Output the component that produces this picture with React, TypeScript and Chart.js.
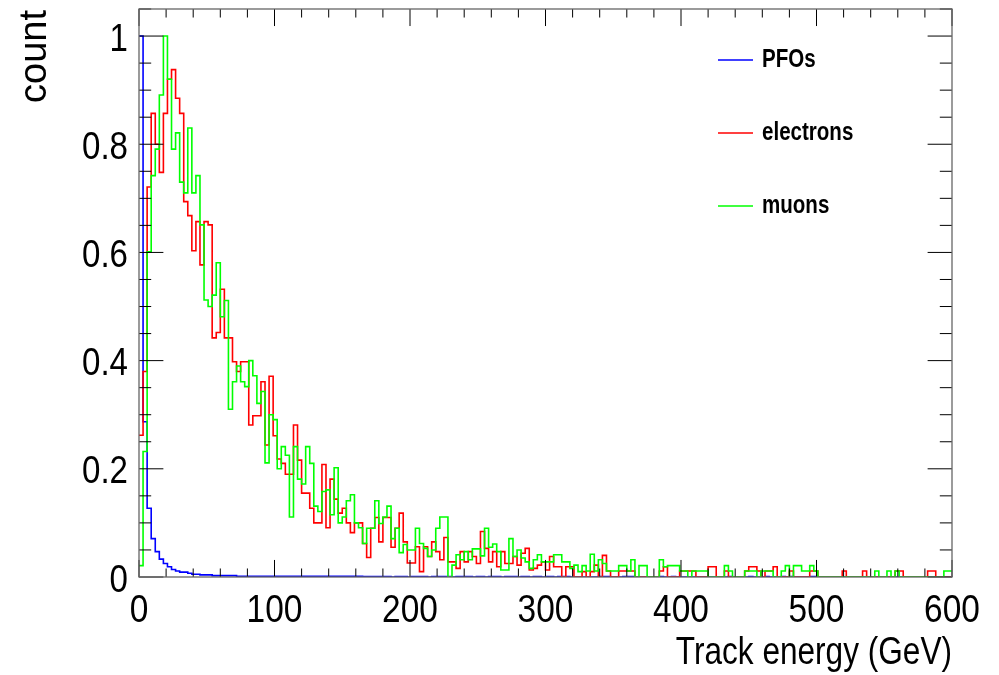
import React, { useEffect, useRef } from 'react';
import { Chart, registerables } from 'chart.js';

Chart.register(...registerables);

// ---------- data ----------
const BIN_WIDTH = 3; // GeV per bin
const X_MIN = 0;
const X_MAX = 600;
const Y_MIN = 0;
const Y_MAX = 1.05;
const X_TICKS = [0, 100, 200, 300, 400, 500, 600];
const X_TICK_LABELS = ['0', '100', '200', '300', '400', '500', '600'];
const Y_TICKS = [0, 0.2, 0.4, 0.6, 0.8, 1];
const Y_TICK_LABELS = ['0', '0.2', '0.4', '0.6', '0.8', '1'];
const X_MINOR_STEP = 20;
const Y_MINOR_STEP = 0.05;
const X_TITLE = 'Track energy (GeV)';
const Y_TITLE = 'count';
const SERIES_LABELS = ['PFOs', 'electrons', 'muons'];
const SERIES_COLORS = ['#0000ff', '#ff0000', '#00ff00'];

const PFOS = [
  1.0, 0.287, 0.127, 0.071, 0.047, 0.033, 0.025, 0.019, 0.014, 0.011,
  0.009, 0.009, 0.007, 0.005, 0.005, 0.004, 0.004, 0.004, 0.0025, 0.0025,
  0.0025, 0.0025, 0.0025, 0.0025, 0.0015, 0.0015, 0.0015, 0.0015, 0.0015, 0.0015,
  0.0015, 0.0015, 0.0015, 0.0015, 0.0015, 0.0015, 0.0015, 0.0015, 0.0015, 0.0015,
  0.0015, 0.0015, 0.0015, 0.0015, 0.0015, 0.0015, 0.0015, 0.0015, 0.0015, 0.0015,
  0.0015, 0.0015, 0.0015, 0.0015, 0.0015, 0.001, 0.001, 0.001, 0.001, 0.001,
  0.001, 0.001, 0, 0.001, 0.001, 0.001, 0, 0.001, 0.001, 0.001,
  0.001, 0, 0.001, 0.001, 0.001, 0.001, 0.001, 0, 0.001, 0.001,
  0.001, 0.001, 0, 0.001, 0.001, 0, 0.001, 0.001, 0.001, 0,
  0.001, 0.001, 0.001, 0, 0.001, 0.001, 0, 0.001, 0.001, 0,
  0.001, 0.001, 0, 0.001, 0.001, 0.001, 0, 0, 0, 0,
  0, 0, 0, 0.001, 0.001, 0.001, 0, 0, 0, 0.001,
  0.001, 0.001, 0, 0, 0, 0, 0, 0, 0.001, 0,
  0, 0.001, 0, 0, 0, 0, 0, 0, 0, 0,
  0, 0, 0, 0, 0, 0.001, 0, 0, 0, 0,
  0.001, 0, 0, 0, 0.001, 0, 0, 0, 0.001, 0,
  0.001, 0, 0, 0, 0, 0.001, 0.001, 0, 0, 0,
  0, 0, 0, 0, 0, 0, 0, 0, 0, 0,
  0, 0, 0, 0, 0, 0, 0, 0, 0, 0,
  0, 0, 0, 0, 0, 0, 0, 0, 0, 0,
];

const ELECTRONS = [
  0.262, 0.38, 0.721, 0.857, 0.80, 0.748, 0.857, 0.92, 0.938, 0.885,
  0.857, 0.694, 0.668, 0.603, 0.657, 0.577, 0.657, 0.651, 0.442, 0.452,
  0.532, 0.442, 0.442, 0.398, 0.380, 0.398, 0.398, 0.281, 0.298, 0.298,
  0.361, 0.244, 0.371, 0.261, 0.218, 0.210, 0.190, 0.190, 0.281, 0.216,
  0.155, 0.155, 0.127, 0.100, 0.100, 0.208, 0.091, 0.181, 0.144, 0.118,
  0.127, 0.100, 0.082, 0.100, 0.100, 0.062, 0.036, 0.090, 0.110, 0.065,
  0.110, 0.110, 0.055, 0.090, 0.118, 0.065, 0.026, 0.026, 0.056, 0.010,
  0.056, 0.038, 0.065, 0.047, 0.032, 0.073, 0.028, 0.028, 0.016, 0.047,
  0.028, 0.047, 0.038, 0.025, 0.084, 0.053, 0.028, 0.047, 0.019, 0.047,
  0.025, 0.025, 0.038, 0.022, 0.044, 0.053, 0.013, 0.016, 0.022, 0.028,
  0.013, 0.038, 0.019, 0.019, 0, 0.019, 0.019, 0, 0, 0.010,
  0, 0.010, 0.022, 0, 0.040, 0.011, 0, 0, 0.011, 0.011,
  0.011, 0.011, 0, 0, 0, 0, 0, 0, 0.011, 0.019,
  0, 0, 0, 0.011, 0.011, 0.011, 0.011, 0, 0, 0,
  0.019, 0.019, 0, 0, 0.011, 0, 0, 0, 0, 0.011,
  0.019, 0.019, 0.011, 0, 0.011, 0.011, 0.019, 0, 0, 0,
  0.011, 0, 0, 0, 0, 0.011, 0.011, 0, 0, 0,
  0, 0, 0, 0.011, 0, 0, 0, 0, 0.011, 0,
  0, 0, 0, 0, 0, 0, 0.011, 0.011, 0, 0,
  0, 0, 0, 0, 0.011, 0.011, 0, 0, 0, 0,
];

const MUONS = [
  0.021, 0.232, 0.601, 0.742, 0.791, 0.891, 1.0, 0.92, 0.791, 0.821,
  0.73, 0.71, 0.83, 0.71, 0.742, 0.651, 0.512, 0.500, 0.521, 0.581,
  0.481, 0.511, 0.310, 0.361, 0.390, 0.361, 0.352, 0.400, 0.372, 0.321,
  0.343, 0.211, 0.300, 0.291, 0.200, 0.241, 0.225, 0.111, 0.241, 0.181,
  0.172, 0.241, 0.210, 0.131, 0.121, 0.158, 0.161, 0.115, 0.202, 0.100,
  0.111, 0.141, 0.152, 0.100, 0.091, 0.062, 0.090, 0.090, 0.141, 0.099,
  0.111, 0.131, 0.071, 0.090, 0.045, 0.060, 0.050, 0.050, 0.090, 0.062,
  0.053, 0.038, 0.050, 0.090, 0.111, 0.111, 0, 0.022, 0.041, 0.032,
  0.047, 0.032, 0.052, 0.052, 0.039, 0.090, 0.055, 0.061, 0.047, 0.013,
  0.013, 0.071, 0.038, 0.050, 0.035, 0.028, 0.016, 0.032, 0.041, 0.028,
  0.028, 0.028, 0.041, 0.041, 0.028, 0.028, 0.016, 0.022, 0.010, 0.021,
  0.011, 0.042, 0.011, 0.032, 0.025, 0.011, 0.011, 0.011, 0.021, 0.021,
  0.011, 0.032, 0, 0.021, 0.021, 0, 0, 0, 0.032, 0.019,
  0.021, 0.021, 0.021, 0.011, 0.011, 0, 0.011, 0.011, 0.011, 0.011,
  0, 0, 0, 0, 0.021, 0.011, 0, 0, 0, 0.011,
  0.011, 0.011, 0, 0.011, 0.011, 0.011, 0, 0, 0.011, 0.021,
  0, 0.021, 0.021, 0.011, 0.011, 0.021, 0.011, 0, 0, 0,
  0, 0, 0, 0, 0, 0, 0, 0, 0, 0,
  0, 0.011, 0, 0, 0.011, 0, 0.011, 0, 0, 0,
  0, 0, 0, 0, 0, 0, 0, 0, 0.011, 0.011,
];

const SERIES = [PFOS, ELECTRONS, MUONS];

// ---------- styling ----------
const FONT = "'Liberation Sans', Arial, sans-serif";
const W = 999;
const H = 675;
const STYLE = {
  yLabel: { size: 38, sx: 0.87, right: 128, dy: 14.5 },
  xLabel: { size: 38, sx: 0.88, dy: 45 },
  xTitle: { size: 39, sx: 0.81, baseline: 664 },
  yTitle: { size: 38, baselineX: 46, topY: 10 },
  legend: { x0: 718, x1: 753, tx: 762, y0: 60, dy: 73, size: 26, sx: 0.79 },
};

// left bin edges + closing edge; 'before' stepping draws each bin's value across [edge_i, edge_i+1]
function toSteps(values: number[]) {
  const pts = values.map((v, i) => ({ x: X_MIN + i * BIN_WIDTH, y: v }));
  pts.push({ x: X_MIN + values.length * BIN_WIDTH, y: values[values.length - 1] });
  return pts;
}

function drawText(ctx: any, text: string, x: number, y: number, sx: number, align: string, baseline: string) {
  ctx.save();
  ctx.translate(x, y);
  ctx.scale(sx, 1);
  ctx.textAlign = align;
  ctx.textBaseline = baseline;
  ctx.fillText(text, 0, 0);
  ctx.restore();
}

const frameTicks = {
  id: 'frameTicks',
  afterDatasetsDraw(chart: any) {
    const { ctx, chartArea } = chart;
    const { left, right, top, bottom } = chartArea;
    const xs = chart.scales.x;
    const ys = chart.scales.y;
    const w = right - left;
    const h = bottom - top;
    const yMaj = 0.03 * w;
    const xMaj = 0.03 * h;
    ctx.save();
    ctx.strokeStyle = '#000';
    ctx.lineWidth = 1;
    ctx.beginPath();
    const ny = Math.round((Y_MAX - Y_MIN) / Y_MINOR_STEP);
    for (let k = 0; k <= ny; k++) {
      const v = Y_MIN + k * Y_MINOR_STEP;
      const p = ys.getPixelForValue(v);
      const major = Y_TICKS.some((t) => Math.abs(t - v) < 1e-6);
      const len = major ? yMaj : yMaj / 2;
      ctx.moveTo(left, p);
      ctx.lineTo(left + len, p);
      ctx.moveTo(right, p);
      ctx.lineTo(right - len, p);
    }
    const nx = Math.round((X_MAX - X_MIN) / X_MINOR_STEP);
    for (let k = 0; k <= nx; k++) {
      const v = X_MIN + k * X_MINOR_STEP;
      const p = xs.getPixelForValue(v);
      const major = X_TICKS.some((t) => Math.abs(t - v) < 1e-6);
      const len = major ? xMaj : xMaj / 2;
      ctx.moveTo(p, bottom);
      ctx.lineTo(p, bottom - len);
      ctx.moveTo(p, top);
      ctx.lineTo(p, top + len);
    }
    ctx.stroke();
    ctx.strokeStyle = '#666';
    ctx.lineWidth = 1.3;
    ctx.strokeRect(left, top, w, h);
    ctx.restore();
  },
};

const axisText = {
  id: 'axisText',
  afterDraw(chart: any) {
    const { ctx, chartArea } = chart;
    const xs = chart.scales.x;
    const ys = chart.scales.y;
    ctx.save();
    ctx.fillStyle = '#000';
    ctx.font = `${STYLE.yLabel.size}px ${FONT}`;
    Y_TICKS.forEach((t, i) => {
      const p = ys.getPixelForValue(t);
      drawText(ctx, Y_TICK_LABELS[i], STYLE.yLabel.right, p + STYLE.yLabel.dy, STYLE.yLabel.sx, 'right', 'alphabetic');
    });
    ctx.font = `${STYLE.xLabel.size}px ${FONT}`;
    X_TICKS.forEach((t, i) => {
      const p = xs.getPixelForValue(t);
      drawText(ctx, X_TICK_LABELS[i], p, chartArea.bottom + STYLE.xLabel.dy, STYLE.xLabel.sx, 'center', 'alphabetic');
    });
    ctx.font = `${STYLE.xTitle.size}px ${FONT}`;
    drawText(ctx, X_TITLE, chartArea.right, STYLE.xTitle.baseline, STYLE.xTitle.sx, 'right', 'alphabetic');
    ctx.font = `${STYLE.yTitle.size}px ${FONT}`;
    ctx.save();
    ctx.translate(STYLE.yTitle.baselineX, STYLE.yTitle.topY);
    ctx.rotate(-Math.PI / 2);
    ctx.textAlign = 'right';
    ctx.textBaseline = 'alphabetic';
    ctx.fillText(Y_TITLE, 0, 0);
    ctx.restore();
    const L = STYLE.legend;
    chart.data.datasets.forEach((ds: any, i: number) => {
      const y = L.y0 + i * L.dy;
      ctx.strokeStyle = ds.borderColor;
      ctx.lineWidth = 1.5;
      ctx.beginPath();
      ctx.moveTo(L.x0, y);
      ctx.lineTo(L.x1, y);
      ctx.stroke();
      ctx.font = `bold ${L.size}px ${FONT}`;
      drawText(ctx, ds.label, L.tx, y, L.sx, 'left', 'middle');
    });
    ctx.restore();
  },
};

export default function App() {
  const ref = useRef<HTMLCanvasElement | null>(null);

  useEffect(() => {
    if (!ref.current) return;
    const datasets = SERIES.map((values, i) => ({
      label: SERIES_LABELS[i],
      data: toSteps(values),
      borderColor: SERIES_COLORS[i],
      backgroundColor: SERIES_COLORS[i],
      borderWidth: 1.6,
      stepped: 'before' as const,
      pointRadius: 0,
      fill: false,
      order: SERIES.length - 1 - i,
    }));

    const chart = new Chart(ref.current, {
      type: 'line',
      data: { datasets },
      options: {
        animation: false,
        responsive: false,
        devicePixelRatio: 1,
        layout: { padding: { left: 0, right: 47, top: 9, bottom: 0 } },
        plugins: { legend: { display: false }, tooltip: { enabled: false } },
        scales: {
          x: {
            type: 'linear',
            min: X_MIN,
            max: X_MAX,
            afterFit: (s: any) => {
              s.height = 98;
            },
            grid: { display: false, drawTicks: false },
            border: { display: false },
            ticks: { display: false, stepSize: 100, includeBounds: false },
            title: { display: false, text: X_TITLE },
          },
          y: {
            type: 'linear',
            min: Y_MIN,
            max: Y_MAX,
            afterFit: (s: any) => {
              s.width = 139;
            },
            grid: { display: false, drawTicks: false },
            border: { display: false },
            ticks: { display: false, stepSize: 0.2, includeBounds: false },
            title: { display: false, text: Y_TITLE },
          },
        },
      },
      plugins: [frameTicks, axisText],
    } as any);
    return () => chart.destroy();
  }, []);

  return (
    <div style={{ position: 'absolute', left: 0, top: 0, width: W, height: H, background: '#fff' }}>
      <canvas ref={ref} width={W} height={H} style={{ display: 'block' }} />
    </div>
  );
}
